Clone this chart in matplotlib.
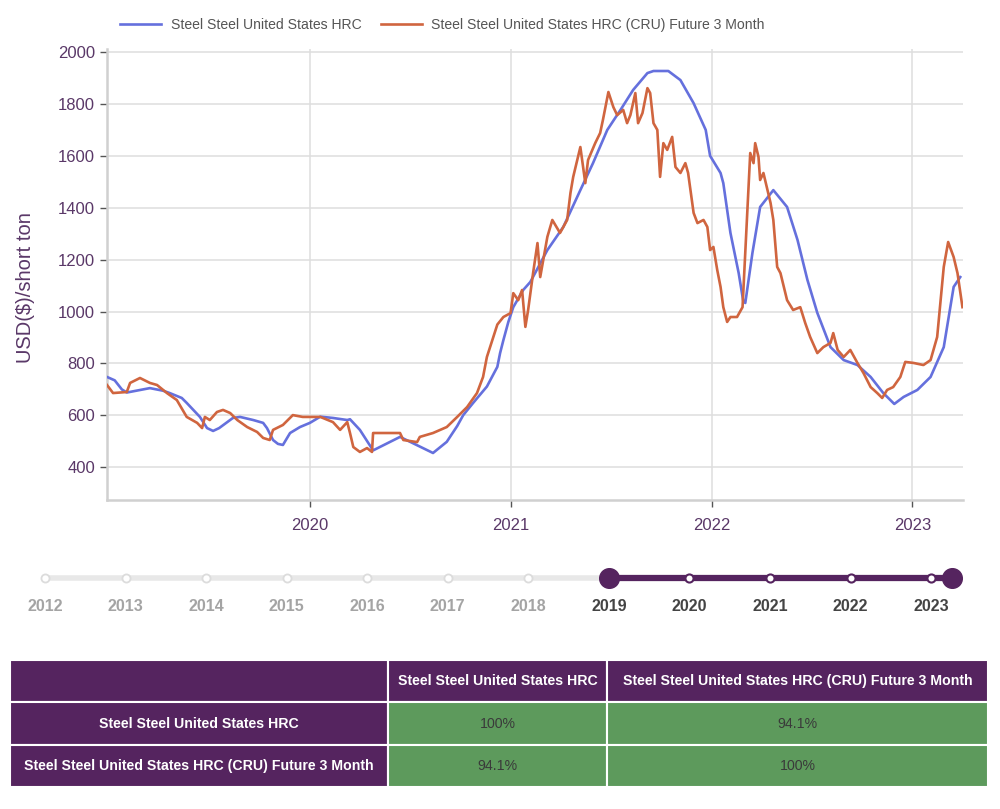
import numpy as np
import pandas as pd
import matplotlib
matplotlib.use('Agg')
import matplotlib.pyplot as plt
import matplotlib.dates as mdates

# ============ 数据 ============
HRC_DATES = [
    '2018-12-28', '2019-01-11', '2019-01-24', '2019-02-02', '2019-03-16', '2019-04-09',
    '2019-04-21', '2019-05-13', '2019-05-22', '2019-06-15', '2019-06-28', '2019-07-09',
    '2019-07-20', '2019-08-14', '2019-08-27', '2019-09-20', '2019-10-08', '2019-10-15',
    '2019-10-26', '2019-11-04', '2019-11-13', '2019-11-26', '2019-12-14', '2020-01-01',
    '2020-01-20', '2020-02-12', '2020-03-09', '2020-03-14', '2020-04-01', '2020-04-25',
    '2020-06-13', '2020-08-12', '2020-09-06', '2020-09-25', '2020-10-06', '2020-10-24',
    '2020-11-18', '2020-12-07', '2020-12-12', '2020-12-18', '2020-12-27', '2021-01-05',
    '2021-01-23', '2021-02-05', '2021-03-08', '2021-04-06', '2021-05-07', '2021-05-30',
    '2021-06-25', '2021-07-19', '2021-08-11', '2021-09-06', '2021-09-17', '2021-10-14',
    '2021-11-05', '2021-11-29', '2021-12-21', '2021-12-29', '2022-01-17', '2022-01-22',
    '2022-02-04', '2022-02-19', '2022-02-27', '2022-03-03', '2022-03-16', '2022-03-30',
    '2022-04-23', '2022-05-18', '2022-06-06', '2022-06-24', '2022-07-12', '2022-08-05',
    '2022-08-29', '2022-09-23', '2022-10-17', '2022-11-09', '2022-11-29', '2022-12-16',
    '2023-01-10', '2023-02-03', '2023-02-27', '2023-03-17', '2023-03-29',
]
HRC_VALUES = [
    748, 735, 700, 688, 705, 695,
    686, 667, 648, 594, 551, 540,
    551, 590, 594, 582, 571, 551,
    505, 490, 486, 532, 555, 571,
    595, 590, 582, 585, 544, 465,
    517, 455, 498, 559, 601, 648,
    711, 787, 840, 890, 960, 1017,
    1083, 1114, 1237, 1326, 1468, 1572,
    1700, 1777, 1854, 1919, 1927, 1927,
    1892, 1803, 1700, 1600, 1534, 1495,
    1303, 1148, 1044, 1033, 1226, 1403,
    1468, 1403, 1276, 1122, 995, 863,
    813, 794, 748, 686, 644, 671,
    698, 748, 863, 1095, 1133,
]

CRU_DATES = [
    '2018-12-28', '2019-01-08', '2019-02-02', '2019-02-08', '2019-02-26', '2019-03-16',
    '2019-03-29', '2019-04-16', '2019-05-04', '2019-05-22', '2019-06-10', '2019-06-19',
    '2019-06-24', '2019-07-03', '2019-07-16', '2019-07-27', '2019-08-09', '2019-08-22',
    '2019-09-09', '2019-09-27', '2019-10-08', '2019-10-20', '2019-10-26', '2019-11-13',
    '2019-12-01', '2019-12-19', '2020-01-20', '2020-02-12', '2020-02-25', '2020-03-09',
    '2020-03-14', '2020-03-20', '2020-04-01', '2020-04-14', '2020-04-23', '2020-04-25',
    '2020-05-13', '2020-06-13', '2020-06-19', '2020-07-14', '2020-07-19', '2020-08-12',
    '2020-09-06', '2020-09-25', '2020-10-13', '2020-10-31', '2020-11-11', '2020-11-18',
    '2020-12-07', '2020-12-18', '2020-12-31', '2021-01-05', '2021-01-14', '2021-01-21',
    '2021-01-27', '2021-02-01', '2021-02-10', '2021-02-18', '2021-02-23', '2021-03-08',
    '2021-03-17', '2021-03-31', '2021-04-13', '2021-04-19', '2021-04-24', '2021-05-07',
    '2021-05-16', '2021-05-21', '2021-06-03', '2021-06-12', '2021-06-17', '2021-06-27',
    '2021-07-06', '2021-07-13', '2021-07-24', '2021-07-31', '2021-08-06', '2021-08-15',
    '2021-08-20', '2021-08-28', '2021-09-06', '2021-09-11', '2021-09-17', '2021-09-24',
    '2021-09-29', '2021-10-05', '2021-10-12', '2021-10-21', '2021-10-27', '2021-11-05',
    '2021-11-14', '2021-11-19', '2021-11-29', '2021-12-06', '2021-12-17', '2021-12-24',
    '2021-12-29', '2022-01-04', '2022-01-11', '2022-01-17', '2022-01-22', '2022-01-29',
    '2022-02-04', '2022-02-16', '2022-02-26', '2022-03-03', '2022-03-08', '2022-03-12',
    '2022-03-18', '2022-03-21', '2022-03-27', '2022-03-30', '2022-04-05', '2022-04-18',
    '2022-04-23', '2022-04-30', '2022-05-06', '2022-05-18', '2022-05-29', '2022-06-11',
    '2022-06-20', '2022-06-29', '2022-07-12', '2022-07-23', '2022-08-05', '2022-08-10',
    '2022-08-18', '2022-08-29', '2022-09-10', '2022-09-23', '2022-10-04', '2022-10-17',
    '2022-10-29', '2022-11-07', '2022-11-16', '2022-11-27', '2022-12-10', '2022-12-19',
    '2023-01-03', '2023-01-21', '2023-02-03', '2023-02-15', '2023-02-27', '2023-03-07',
    '2023-03-17', '2023-03-24', '2023-04-02',
]
CRU_VALUES = [
    717, 686, 690, 725, 744, 725,
    717, 686, 659, 594, 571, 551,
    594, 582, 613, 621, 609, 582,
    555, 536, 513, 505, 544, 563,
    601, 594, 594, 574, 544, 574,
    532, 478, 459, 474, 459, 532,
    532, 532, 505, 497, 517, 532,
    555, 594, 632, 686, 748, 825,
    950, 979, 994, 1071, 1044, 1083,
    941, 1006, 1148, 1264, 1133, 1288,
    1353, 1303, 1353, 1457, 1519, 1634,
    1495, 1584, 1649, 1688, 1738, 1846,
    1788, 1757, 1777, 1726, 1757, 1842,
    1726, 1765, 1861, 1842, 1726, 1700,
    1519, 1649, 1623, 1673, 1557, 1534,
    1572, 1534, 1380, 1341, 1353, 1326,
    1237, 1249, 1160, 1095, 1017, 960,
    979, 979, 1017, 1226, 1441, 1611,
    1572, 1649, 1596, 1507, 1534, 1418,
    1353, 1172, 1148, 1044, 1006, 1017,
    956, 902, 840, 863, 879, 917,
    852, 825, 852, 802, 763, 709,
    686, 667, 698, 709, 748, 806,
    802, 794, 813, 902, 1172, 1268,
    1210, 1148, 1017,
]

SERIES_NAMES = ['Steel Steel United States HRC',
                'Steel Steel United States HRC (CRU) Future 3 Month']
Y_TICKS = [400, 600, 800, 1000, 1200, 1400, 1600, 1800, 2000]
X_TICKS = ['2020-01-01', '2021-01-01', '2022-01-01', '2023-01-01']

SLIDER_YEARS = [2012, 2013, 2014, 2015, 2016, 2017, 2018, 2019, 2020, 2021, 2022, 2023]
RANGE_START = 2019.0
RANGE_END = 2023.26

TABLE_COLS = ['', SERIES_NAMES[0], SERIES_NAMES[1]]
TABLE_ROWS = [SERIES_NAMES[0], SERIES_NAMES[1]]
TABLE_VALUES = [['100%', '94.1%'],
                ['94.1%', '100%']]
# ==============================

BLUE = '#6570dd'
ORANGE = '#d0653f'
PURPLE = '#55245f'
GREEN = '#5d9a5c'
LABEL_PURPLE = '#5a3868'
GRID = '#dedede'

plt.rcParams['font.family'] = ['Liberation Sans', 'DejaVu Sans']

fig = plt.figure(figsize=(10, 8.09), dpi=100)

# ---- 主图 ----
ax = fig.add_axes([0.107, 0.382, 0.856, 0.5575])
hrc_x = pd.to_datetime(HRC_DATES)
cru_x = pd.to_datetime(CRU_DATES)
l1, = ax.plot(hrc_x, HRC_VALUES, color=BLUE, lw=1.9, zorder=3)
l2, = ax.plot(cru_x, CRU_VALUES, color=ORANGE, lw=1.9, zorder=4)

ax.set_xlim(pd.Timestamp('2018-12-28'), pd.Timestamp('2023-04-03'))
ax.set_ylim(274, 2012)
ax.set_yticks(Y_TICKS)
ax.set_xticks(pd.to_datetime(X_TICKS))
ax.xaxis.set_major_formatter(mdates.DateFormatter('%Y'))
ax.grid(True, color=GRID, lw=1.1)
ax.set_axisbelow(True)
for s in ['top', 'right']:
    ax.spines[s].set_visible(False)
for s in ['left', 'bottom']:
    ax.spines[s].set_color('#d0d0d0')
    ax.spines[s].set_linewidth(1.8)
ax.tick_params(axis='both', colors='#555555', labelcolor=LABEL_PURPLE,
               labelsize=12, length=5, width=1)
ax.tick_params(axis='x', pad=8)
ax.set_ylabel('USD($)/short ton', fontsize=14.5, color=LABEL_PURPLE)
ax.yaxis.set_label_coords(-0.084, 0.47)

fig.legend([l1, l2], SERIES_NAMES, loc='center', bbox_to_anchor=(0.4425, 0.969),
           ncol=2, frameon=False, handlelength=2.9, handletextpad=0.7,
           columnspacing=1.4, fontsize=10.1, labelcolor='#555555')

# ---- 时间滑块 ----
axs = fig.add_axes([0, 1 - 620 / 809, 1, 60 / 809])
px0 = 2012 - 45 / 80.55
axs.set_xlim(px0, px0 + 1000 / 80.55)
axs.set_ylim(-1, 1)
axs.axis('off')
sy = 0.4
axs.plot([SLIDER_YEARS[0], RANGE_START], [sy, sy], color='#e8e8e8', lw=4,
         solid_capstyle='round', zorder=1)
gray_years = [y for y in SLIDER_YEARS if y < RANGE_START]
axs.scatter(gray_years, [sy] * len(gray_years), s=34, facecolor='white',
            edgecolor='#dcdcdc', lw=1.3, zorder=2)
axs.plot([RANGE_START, RANGE_END], [sy, sy], color=PURPLE, lw=4.5, zorder=3)
in_years = [y for y in SLIDER_YEARS if y > RANGE_START]
axs.scatter(in_years, [sy] * len(in_years), s=34, facecolor='white',
            edgecolor=PURPLE, lw=1.5, zorder=4)
axs.scatter([RANGE_START, RANGE_END], [sy, sy], s=200, color=PURPLE, zorder=5)
for y in SLIDER_YEARS:
    c = '#a4a4a4' if y < RANGE_START else '#444444'
    axs.text(y, -0.55, str(y), ha='center', va='center', fontsize=11.5,
             fontweight='bold', color=c)

# ---- 相关性表格 ----
axt = fig.add_axes([0.01, 1 - 787 / 809, 0.978, 127 / 809])
axt.axis('off')
cell_text = [TABLE_COLS] + [[r] + v for r, v in zip(TABLE_ROWS, TABLE_VALUES)]
tbl = axt.table(cellText=cell_text, colWidths=[378, 219, 381],
                bbox=[0, 0, 1, 1], cellLoc='center')
tbl.auto_set_font_size(False)
for (r, c), cell in tbl.get_celld().items():
    cell.set_edgecolor('white')
    cell.set_linewidth(1.5)
    txt = cell.get_text()
    if r == 0 or c == 0:
        cell.set_facecolor(PURPLE)
        txt.set_color('white')
        txt.set_fontweight('bold')
        txt.set_fontsize(10.2)
    else:
        cell.set_facecolor(GREEN)
        txt.set_color('#3a3a3a')
        txt.set_fontsize(10.2)

fig.savefig('out.png', dpi=100, facecolor='white')
